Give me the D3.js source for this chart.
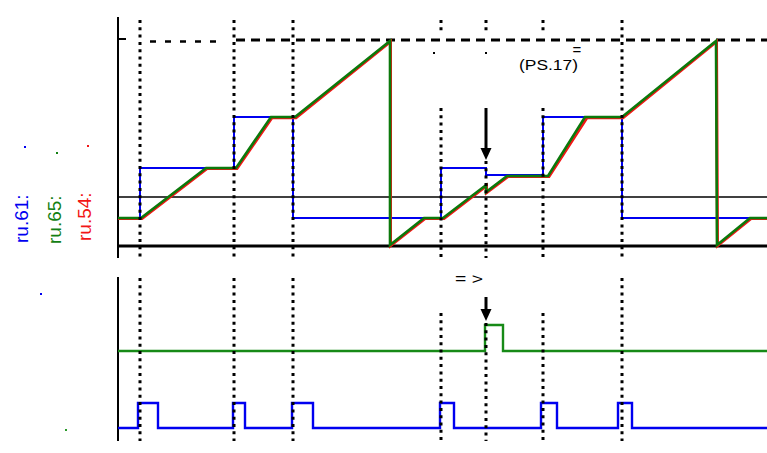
<!DOCTYPE html>
<html>
<head>
<meta charset="utf-8">
<script src="https://cdn.jsdelivr.net/npm/d3@7"></script>
<style>
  html, body { margin: 0; padding: 0; background: #fff; }
  svg { display: block; font-family: "Liberation Sans", Arial, sans-serif; }
</style>
</head>
<body>
<svg id="chart" width="767" height="453"></svg>
<script>
// ---- signal data (time in s, level in % of limit) ----
const markerTimes = [2.2, 11.6, 17.5, 32.3, 36.8, 42.5, 50.4];
const markerKind  = ["full", "full", "full", "late", "arrow", "late", "full"];

// ru.61 : setpoint (blue, step signal)
const ru61T = [0, 2.2, 2.2, 11.6, 11.6, 17.5, 17.5, 32.3, 32.3, 36.8, 36.8, 42.5, 42.5, 50.4, 50.4, 64.9];
const ru61V = [13.6, 13.6, 37.9, 37.9, 62.6, 62.6, 13.6, 13.6, 37.9, 37.9, 34.5, 34.5, 62.6, 62.6, 13.6, 13.6];

// ru.65 : ramp output (green)
const ru65T = [0, 2.3, 8.8, 11.8, 15.3, 17.7, 27.2, 27.2, 30.6, 32.5, 36.8, 36.8, 38.9, 43.0, 46.7, 50.4, 59.8, 59.9, 63.2, 64.9];
const ru65V = [13.6, 13.6, 37.9, 37.9, 62.6, 62.6, 99.5, 0.5, 13.6, 13.6, 29.6, 26.2, 34.0, 34.0, 62.6, 62.6, 99.5, 0.5, 13.6, 13.6];

// ru.54 : actual value (red)
const ru54T = [0, 2.4, 8.9, 11.9, 15.4, 17.8, 27.25, 27.25, 30.7, 32.6, 36.85, 36.85, 39.0, 43.1, 46.9, 50.5, 59.85, 59.95, 63.3, 64.9];
const ru54V = [13.3, 13.3, 37.6, 37.6, 62.3, 62.3, 99.2, 0.2, 13.3, 13.3, 29.2, 25.9, 33.7, 33.7, 62.3, 62.3, 99.2, 0.2, 13.3, 13.3];

const limitLevel = 100;      // (PS.17)
const thresholdLevel = 23.8;

// lower panel: digital signals
const bluePulseStart = [2.0, 11.5, 17.4, 32.2, 42.3, 50.0];
const bluePulseEnd   = [4.0, 12.7, 19.5, 33.6, 43.9, 51.4];
const blueLow = 7.5, blueHigh = 23.1;
const greenPulseStart = [36.7];
const greenPulseEnd   = [38.5];
const greenLow = 55.6, greenHigh = 71.9;

// ---- drawing ----
const svg = d3.select("#chart");
const x  = d3.scaleLinear().domain([0, 65]).range([118, 768]);
const yT = d3.scaleLinear().domain([0, 100]).range([246, 40]);
const yB = d3.scaleLinear().domain([0, 100]).range([440, 280]);

const BLUE = "#0000f0", GREEN = "#0b790b", GREEN2 = "#178a17", RED = "#f21616";

const zip = (T, V) => T.map((t, i) => [t, V[i]]);
const lineT = d3.line().x(d => x(d[0])).y(d => yT(d[1]));
const lineB = d3.line().x(d => x(d[0])).y(d => yB(d[1]));

function pulses(starts, ends, lo, hi) {
  const pts = [[0, lo]];
  starts.forEach((s, i) => {
    pts.push([s, lo], [s, hi], [ends[i], hi], [ends[i], lo]);
  });
  pts.push([65, lo]);
  return pts;
}

// axes (vertical frame lines)
svg.append("line").attr("x1", 118).attr("x2", 118).attr("y1", 17).attr("y2", 258)
  .attr("stroke", "#000").attr("stroke-width", 2);
svg.append("line").attr("x1", 118).attr("x2", 118).attr("y1", 277).attr("y2", 441)
  .attr("stroke", "#000").attr("stroke-width", 2);

// bottom line and threshold of top panel
svg.append("line").attr("x1", x(0)).attr("x2", 767).attr("y1", yT(0)).attr("y2", yT(0))
  .attr("stroke", "#000").attr("stroke-width", 3);
svg.append("line").attr("x1", x(0)).attr("x2", 767).attr("y1", yT(thresholdLevel)).attr("y2", yT(thresholdLevel))
  .attr("stroke", "#000").attr("stroke-width", 1.4);

// limit line (PS.17)
svg.append("line").attr("x1", 118).attr("x2", 126).attr("y1", yT(limitLevel) - 1).attr("y2", yT(limitLevel) - 1)
  .attr("stroke", "#000").attr("stroke-width", 2);
svg.append("line").attr("x1", 150).attr("x2", 222).attr("y1", yT(limitLevel) + 1.5).attr("y2", yT(limitLevel) + 1.5)
  .attr("stroke", "#000").attr("stroke-width", 2.4).attr("stroke-dasharray", "6,9");
svg.append("line").attr("x1", 236).attr("x2", 767).attr("y1", yT(limitLevel)).attr("y2", yT(limitLevel))
  .attr("stroke", "#000").attr("stroke-width", 3).attr("stroke-dasharray", "9,6");

// top signals
svg.append("path").attr("d", lineT(zip(ru61T, ru61V)))
  .attr("fill", "none").attr("stroke", BLUE).attr("stroke-width", 2);
svg.append("path").attr("d", lineT(zip(ru54T, ru54V)))
  .attr("fill", "none").attr("stroke", RED).attr("stroke-width", 3);
svg.append("path").attr("d", lineT(zip(ru65T, ru65V)))
  .attr("fill", "none").attr("stroke", GREEN).attr("stroke-width", 2.6);

// bottom signals
svg.append("path").attr("d", lineB(pulses(greenPulseStart, greenPulseEnd, greenLow, greenHigh)))
  .attr("fill", "none").attr("stroke", GREEN2).attr("stroke-width", 2.4);
svg.append("path").attr("d", lineB(pulses(bluePulseStart, bluePulseEnd, blueLow, blueHigh)))
  .attr("fill", "none").attr("stroke", BLUE).attr("stroke-width", 2.4);

// dotted event markers
const dotted = (xx, y1, y2) => svg.append("line")
  .attr("x1", xx).attr("x2", xx).attr("y1", y1).attr("y2", y2)
  .attr("stroke", "#000").attr("stroke-width", 3).attr("stroke-dasharray", "3,4.3");
markerTimes.forEach((t, i) => {
  const k = markerKind[i], xx = Math.round(x(t));
  if (k === "full") {
    dotted(xx, 20, 258);
    dotted(xx, 278, 441);
  } else if (k === "late") {
    dotted(xx, 20, 31);
    dotted(xx, 108, 258);
    dotted(xx, 313, 441);
  } else {
    dotted(xx, 20, 33);
    dotted(xx, 161, 258);
    dotted(xx, 323, 441);
  }
});

// arrows at the event of interest
function arrow(xx, y1, y2) {
  svg.append("line").attr("x1", xx).attr("x2", xx).attr("y1", y1).attr("y2", y2 - 10)
    .attr("stroke", "#000").attr("stroke-width", 3);
  svg.append("path")
    .attr("d", `M${xx - 5.5},${y2 - 12} L${xx + 5.5},${y2 - 12} L${xx},${y2} Z`)
    .attr("fill", "#000");
}
const arrowT = markerTimes[markerKind.indexOf("arrow")];
arrow(Math.round(x(arrowT)), 108, 160);
arrow(Math.round(x(arrowT)), 297, 321);

// stray marks
[[433, 52], [485, 52]].forEach(p =>
  svg.append("rect").attr("x", p[0]).attr("y", p[1]).attr("width", 2).attr("height", 2).attr("fill", "#000"));

// texts
svg.append("text").attr("x", 577).attr("y", 55).attr("text-anchor", "middle")
  .attr("font-size", 15).text("=");
svg.append("text").attr("x", 519).attr("y", 70).attr("font-size", 15)
  .attr("textLength", 59).attr("lengthAdjust", "spacingAndGlyphs").text("(PS.17)");
svg.append("text").attr("x", 455).attr("y", 284).attr("font-size", 15)
  .attr("textLength", 28).attr("lengthAdjust", "spacingAndGlyphs").text("= >");

// rotated signal names
const names = [
  { txt: "ru.61:", color: BLUE,  bx: 28, by: 243, dot: [24, 146] },
  { txt: "ru.65:", color: "#138013", bx: 61, by: 244, dot: [56, 152] },
  { txt: "ru.54:", color: RED,   bx: 91, by: 241, dot: [87, 145] }
];
names.forEach(n => {
  svg.append("text").attr("transform", `translate(${n.bx},${n.by}) rotate(-90)`)
    .attr("font-size", 19).attr("fill", n.color).text(n.txt);
  svg.append("rect").attr("x", n.dot[0]).attr("y", n.dot[1]).attr("width", 2).attr("height", 2).attr("fill", n.color);
});
svg.append("rect").attr("x", 40).attr("y", 293).attr("width", 2).attr("height", 2).attr("fill", BLUE);
svg.append("rect").attr("x", 65).attr("y", 429).attr("width", 2).attr("height", 2).attr("fill", "#2a9a2a");
</script>
</body>
</html>
